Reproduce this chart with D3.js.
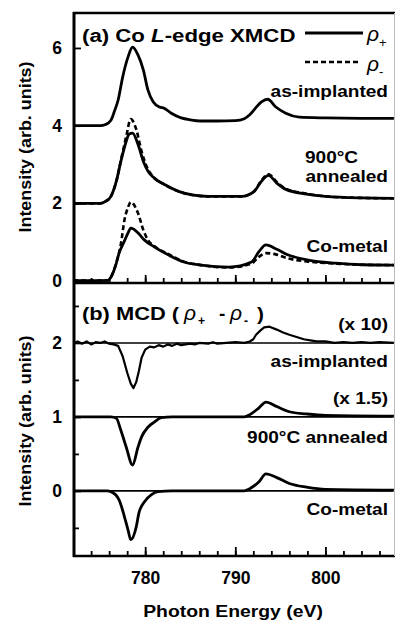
<!DOCTYPE html>
<html>
<head>
<meta charset="utf-8">
<script src="https://cdn.jsdelivr.net/npm/d3@7"></script>
<style>
body { margin: 0; background: white; }
text { font-family: "Liberation Sans", Arial, sans-serif; fill: black; }
.curve { fill: none; stroke: black; stroke-width: 2.8; stroke-linejoin: round; }
.dash { fill: none; stroke: black; stroke-width: 2.6; stroke-dasharray: 5,3; }
.base { stroke: black; stroke-width: 1.6; }
.frame { stroke: black; stroke-width: 2.5; }
</style>
</head>
<body>
<div id="fig"></div>
<script>

// ---- data ----
// (a) Co L-edge XAS, as-implanted (offset 4)
var eAsImp = [772, 775, 775.6, 776.2, 776.6, 777.0, 777.5, 778.1, 778.6, 779.2, 779.8, 780.3, 780.9, 781.6, 782.1, 782.9, 784, 785, 786.2, 788, 790, 791, 791.6, 792.2, 792.9, 793.6, 794.5, 795.6, 797.1, 800, 804, 807.6];
var asImpPlus = [4.00, 4.00, 4.03, 4.14, 4.38, 4.66, 5.25, 5.77, 6.02, 5.82, 5.43, 4.92, 4.61, 4.48, 4.45, 4.32, 4.20, 4.15, 4.12, 4.12, 4.13, 4.18, 4.28, 4.44, 4.61, 4.68, 4.48, 4.32, 4.22, 4.20, 4.19, 4.19];

// 900C annealed (offset 2)
var eAnnPlus = [772, 775, 775.6, 776.2, 776.8, 777.3, 777.9, 778.2, 778.6, 779.2, 779.8, 780.3, 781.0, 782.1, 783.7, 785.4, 787, 790.7, 792.1, 792.9, 793.7, 794.6, 795.6, 797.9, 800, 804, 807.6];
var annPlus = [2.00, 2.00, 2.05, 2.18, 2.57, 3.08, 3.60, 3.78, 3.81, 3.52, 3.08, 2.83, 2.65, 2.49, 2.31, 2.21, 2.18, 2.18, 2.31, 2.57, 2.72, 2.52, 2.36, 2.24, 2.18, 2.14, 2.13];
var eAnnMinus = [772, 775, 775.6, 776.2, 776.8, 777.3, 777.9, 778.4, 779.0, 779.6, 780.2, 781.0, 782.1, 783.7, 785.4, 787, 790.7, 792.1, 792.9, 793.7, 794.6, 795.6, 797.9, 800, 804, 807.6];
var annMinus = [2.00, 2.00, 2.05, 2.18, 2.57, 3.10, 3.73, 4.17, 3.91, 3.34, 2.93, 2.66, 2.49, 2.31, 2.21, 2.18, 2.18, 2.31, 2.59, 2.75, 2.55, 2.38, 2.25, 2.18, 2.14, 2.13];

// Co-metal (offset 0)
var eMetPlus = [772, 774, 775.9, 776.2, 776.8, 777.1, 777.6, 778.1, 778.4, 779.2, 779.9, 781, 782.6, 784.3, 786.2, 789.3, 791.8, 792.6, 793.4, 794.6, 795.9, 798.1, 801.1, 804, 807.6];
var metPlus = [0.02, 0.01, 0.02, 0.10, 0.46, 0.72, 0.98, 1.24, 1.36, 1.24, 1.06, 0.88, 0.67, 0.49, 0.41, 0.36, 0.49, 0.75, 0.93, 0.82, 0.67, 0.54, 0.46, 0.42, 0.41];
var eMetMinus = [772, 774, 775.9, 776.2, 776.8, 777.3, 777.7, 778.1, 778.4, 779.2, 779.8, 780.3, 781, 782.6, 784.3, 786.2, 789.3, 791.8, 792.6, 793.4, 794.6, 795.9, 798.1, 801.1, 804, 807.6];
var metMinus = [0.02, 0.01, 0.02, 0.10, 0.48, 0.95, 1.57, 1.90, 2.03, 1.75, 1.31, 1.06, 0.90, 0.69, 0.50, 0.41, 0.35, 0.45, 0.62, 0.72, 0.68, 0.58, 0.50, 0.45, 0.42, 0.41];

// (b) MCD, as-implanted x10 (offset 2)
var eMcdAsImp = [772, 772.5, 773, 773.5, 774, 774.5, 775, 775.5, 776, 776.5, 777, 777.5, 778, 778.4, 778.7, 779, 779.3, 779.6, 780, 780.5, 781, 781.5, 782, 782.5, 783, 783.5, 784, 785, 785.5, 786, 787, 787.5, 788, 789, 790, 791, 791.6, 792, 792.3, 792.8, 793.2, 793.8, 794.6, 795.3, 796, 796.8, 797.6, 798.5, 799, 800, 801, 802, 803, 804, 805, 806, 807.6];
var mcdAsImp = [2.00, 2.02, 1.99, 2.02, 1.98, 2.01, 2.00, 2.02, 1.99, 1.98, 1.96, 1.82, 1.60, 1.45, 1.39, 1.47, 1.62, 1.80, 1.91, 1.95, 1.94, 1.97, 1.95, 1.98, 1.96, 1.99, 1.97, 1.99, 1.98, 2.00, 1.99, 2.01, 1.99, 2.00, 2.01, 2.00, 2.02, 2.05, 2.11, 2.17, 2.21, 2.22, 2.18, 2.14, 2.11, 2.08, 2.05, 2.03, 2.02, 2.02, 2.00, 2.01, 2.00, 2.01, 2.00, 2.01, 2.00];

// 900C annealed x1.5 (offset 1)
var eMcdAnn = [772, 776.2, 776.8, 777.3, 777.9, 778.6, 779.2, 779.6, 780.3, 781, 781.8, 783, 791, 791.6, 792.6, 793.4, 794.6, 796, 797.9, 800, 807.6];
var mcdAnn = [1.00, 1.00, 0.98, 0.82, 0.59, 0.35, 0.59, 0.73, 0.86, 0.93, 0.99, 1.00, 1.00, 1.03, 1.12, 1.20, 1.14, 1.07, 1.04, 1.02, 1.01];

// Co-metal (offset 0)
var eMcdMet = [772, 775.8, 776.2, 777.1, 777.7, 778.1, 778.4, 779, 779.3, 779.9, 780.7, 781.4, 783, 791, 791.6, 792.6, 793.4, 794.6, 796, 797.9, 800, 807.6];
var mcdMet = [0.00, 0.00, -0.01, -0.12, -0.35, -0.53, -0.66, -0.49, -0.30, -0.15, -0.05, -0.01, 0.00, 0.00, 0.03, 0.12, 0.23, 0.18, 0.10, 0.05, 0.02, 0.01];

var mcdOffsets = [2, 1, 0];
var xMajor = [780, 790, 800];
var xMinor = d3.range(774, 808, 2);
var yTicksA = [0, 2, 4, 6];
var yTicksB = [0, 1, 2];
var yMinorB = [-0.5, 0.5, 1.5, 2.5];

// ---- layout ----
var width = 395, height = 622;
var left = 74, right = 393, topA = 13, mid = 283, bottom = 556;
var sx = 1.19;

var svg = d3.select("#fig").append("svg")
	.attr("width", width)
	.attr("height", height);

var x = d3.scaleLinear().domain([772.1, 807.5]).range([left, right]);
var yA = d3.scaleLinear().domain([-0.05, 6.9]).range([mid, topA]);
var yB = d3.scaleLinear().domain([-0.88, 2.81]).range([bottom, mid]);

function pairs(e, v) { return e.map(function(d, i) { return [d, v[i]]; }); }

var lineA = d3.line().x(function(d) { return x(d[0]); }).y(function(d) { return yA(d[1]); }).curve(d3.curveMonotoneX);
var lineB = d3.line().x(function(d) { return x(d[0]); }).y(function(d) { return yB(d[1]); }).curve(d3.curveMonotoneX);

// MCD zero lines
svg.selectAll(".base").data(mcdOffsets).enter().append("line")
	.attr("class", "base")
	.attr("x1", left).attr("x2", right)
	.attr("y1", function(d) { return yB(d); }).attr("y2", function(d) { return yB(d); });

// curves panel a
svg.append("path").attr("class", "dash").attr("d", lineA(pairs(eAnnMinus, annMinus)));
svg.append("path").attr("class", "dash").attr("d", lineA(pairs(eMetMinus, metMinus)));
svg.append("path").attr("class", "curve").attr("d", lineA(pairs(eAsImp, asImpPlus)));
svg.append("path").attr("class", "curve").attr("d", lineA(pairs(eAnnPlus, annPlus)));
svg.append("path").attr("class", "curve").attr("d", lineA(pairs(eMetPlus, metPlus)));

// curves panel b
svg.append("path").attr("class", "curve").style("stroke-width", 2.2).attr("d", d3.line().x(function(d) { return x(d[0]); }).y(function(d) { return yB(d[1]); })(pairs(eMcdAsImp, mcdAsImp)));
svg.append("path").attr("class", "curve").attr("d", lineB(pairs(eMcdAnn, mcdAnn)));
svg.append("path").attr("class", "curve").attr("d", lineB(pairs(eMcdMet, mcdMet)));

// axes
function styleAxis(g) {
	g.select(".domain").remove();
	g.selectAll("line").attr("stroke-width", 1.8);
	g.selectAll("text").style("font-size", "17.5px").style("font-weight", "bold");
}

svg.append("g").attr("transform", "translate(0," + mid + ")")
	.call(d3.axisBottom(x).tickValues(xMinor).tickSize(-5).tickFormat("")).call(styleAxis);
svg.append("g").attr("transform", "translate(0," + mid + ")")
	.call(d3.axisBottom(x).tickValues(xMajor).tickSize(-8).tickFormat("")).call(styleAxis);
svg.append("g").attr("transform", "translate(0," + bottom + ")")
	.call(d3.axisBottom(x).tickValues(xMinor).tickSize(-5).tickFormat("")).call(styleAxis);
svg.append("g").attr("transform", "translate(0," + bottom + ")")
	.call(d3.axisBottom(x).tickValues(xMajor).tickSize(-9).tickPadding(16).tickFormat(d3.format("d"))).call(styleAxis);

svg.append("g").attr("transform", "translate(" + left + ",0)")
	.call(d3.axisLeft(yA).tickValues(yTicksA).tickSize(-7).tickPadding(12).tickFormat(d3.format("d"))).call(styleAxis);
svg.append("g").attr("transform", "translate(" + left + ",0)")
	.call(d3.axisLeft(yB).tickValues(yTicksB).tickSize(-7).tickPadding(12).tickFormat(d3.format("d"))).call(styleAxis);
svg.append("g").attr("transform", "translate(" + left + ",0)")
	.call(d3.axisLeft(yB).tickValues(yMinorB).tickSize(-5).tickFormat("")).call(styleAxis);

// frame
svg.append("line").attr("class", "frame").attr("x1", left - 1).attr("x2", width).attr("y1", topA).attr("y2", topA);
svg.append("line").attr("class", "frame").attr("x1", left - 1).attr("x2", width).attr("y1", mid).attr("y2", mid);
svg.append("line").attr("class", "frame").attr("x1", left - 1).attr("x2", width).attr("y1", bottom).attr("y2", bottom);
svg.append("line").attr("class", "frame").style("stroke-width", 3).attr("x1", left).attr("x2", left).attr("y1", topA - 1).attr("y2", bottom + 1);
svg.append("line").attr("stroke", "#bbb").attr("stroke-width", 1).attr("x1", 394.5).attr("x2", 394.5).attr("y1", topA).attr("y2", bottom);

// text helper
function label(px, py, anchor, size, scale, weight) {
	return svg.append("text")
		.attr("transform", "translate(" + px + "," + py + ") scale(" + scale + ",1)")
		.attr("text-anchor", anchor)
		.style("font-size", size + "px")
		.style("font-weight", weight || "bold");
}

// axis titles
svg.append("text").attr("transform", "translate(31,147) rotate(-90) scale(1.12,1)")
	.attr("text-anchor", "middle").style("font-size", "16px").style("font-weight", "bold")
	.text("Intensity (arb. units)");
svg.append("text").attr("transform", "translate(31,421) rotate(-90) scale(1.12,1)")
	.attr("text-anchor", "middle").style("font-size", "16px").style("font-weight", "bold")
	.text("Intensity (arb. units)");
label(233, 617, "middle", 17, 1.14).text("Photon Energy (eV)");

// panel a labels
var t = label(82, 42, "start", 19, 1.17);
t.append("tspan").text("(a) Co ");
t.append("tspan").style("font-style", "italic").text("L");
t.append("tspan").text("-edge XMCD");

svg.append("line").attr("class", "curve").attr("x1", 305).attr("x2", 363).attr("y1", 33).attr("y2", 33);
svg.append("line").attr("class", "dash").attr("x1", 305).attr("x2", 361).attr("y1", 62).attr("y2", 62);
var lp = label(367, 41, "start", 21, 1, "normal");
lp.append("tspan").style("font-style", "italic").text("ρ");
lp.append("tspan").attr("dy", 6).style("font-size", "13px").text("+");
var lm = label(367, 71, "start", 21, 1, "normal");
lm.append("tspan").style("font-style", "italic").text("ρ");
lm.append("tspan").attr("dy", 5).style("font-size", "13px").text("-");

label(388, 97, "end", 16, sx).text("as-implanted");
label(305, 163, "start", 16, sx).text("900°C");
label(388, 182, "end", 16, sx).text("annealed");
label(388, 252, "end", 16, sx).text("Co-metal");

// panel b labels
label(82, 320, "start", 19, 1.15).text("(b) MCD (");
label(184, 320, "start", 21, 1, "normal").style("font-style", "italic").text("ρ");
label(198, 325, "start", 12, 1).text("+");
label(219, 320, "start", 19, 1).text("-");
label(230, 320, "start", 21, 1, "normal").style("font-style", "italic").text("ρ");
label(244, 325, "start", 12, 1).text("-");
label(257, 320, "start", 19, 1.1).text(")");

label(388, 330, "end", 16, sx).text("(x 10)");
label(388, 367, "end", 16, sx).text("as-implanted");
label(388, 404, "end", 16, sx).text("(x 1.5)");
label(388, 443, "end", 16, sx).text("900°C annealed");
label(388, 515, "end", 16, sx).text("Co-metal");

</script>
</body>
</html>
